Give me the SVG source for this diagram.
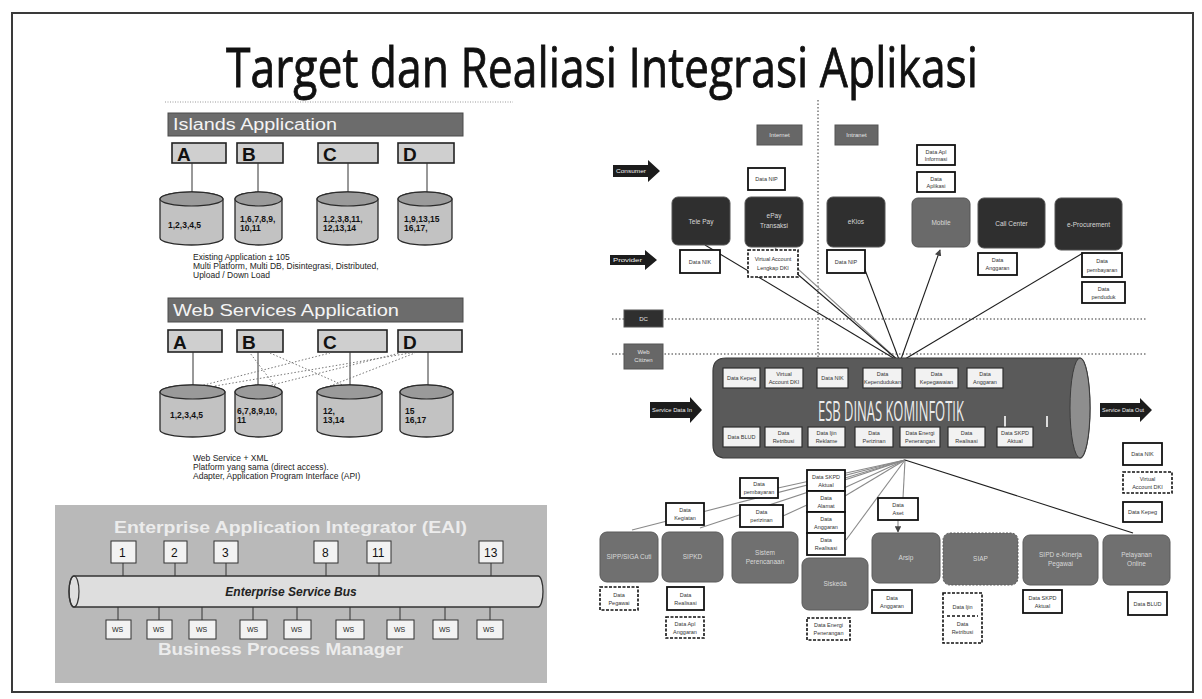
<svg xmlns="http://www.w3.org/2000/svg" width="1202" height="699" viewBox="0 0 1202 699">
<defs>
<style>
.frame{fill:#fff;stroke:#3a3a3a;stroke-width:2}
.title{font-family:"Open Sans","Liberation Sans",sans-serif;font-size:54px;fill:#111;stroke:#111;stroke-width:0.8}
.hdr{fill:#6c6c6c;stroke:#4a4a4a;stroke-width:1}
.hdrt{font-family:"Liberation Sans",Arial,sans-serif;font-size:16px;fill:#f4f4f4}
.abox{fill:#cfcfcf;stroke:#222;stroke-width:1.6}
.abt{font-family:"Liberation Sans",Arial,sans-serif;font-weight:bold;font-size:19px;fill:#111}
.cyl{fill:#c2c2c2;stroke:#2a2a2a;stroke-width:1.3}
.cyt{font-family:"Liberation Sans",Arial,sans-serif;font-weight:bold;font-size:8.5px;fill:#111}
.cap{font-family:"Liberation Sans",Arial,sans-serif;font-size:8.5px;fill:#222}
.vl{stroke:#333;stroke-width:1}
.wsl{stroke:#777;stroke-width:1;stroke-dasharray:1.5 2}
.panel{fill:#b9b9b9}
.eait{font-family:"Liberation Sans",Arial,sans-serif;font-weight:bold;font-size:17px;fill:#ececec}
.num{fill:#f2f2f2;stroke:#333;stroke-width:1}
.numt{font-family:"Liberation Sans",Arial,sans-serif;font-size:12px;fill:#111}
.bus{fill:#dedede;stroke:#333;stroke-width:1.3}
.bust{font-family:"Liberation Sans",Arial,sans-serif;font-weight:bold;font-style:italic;font-size:12px;fill:#222}
.wst{font-family:"Liberation Sans",Arial,sans-serif;font-size:7px;fill:#222}
.dn{fill:#2f2f2f;stroke:#555;stroke-width:1}
.mn{fill:#6a6a6a;stroke:#555;stroke-width:1}
.gn{fill:#707070;stroke:#5a5a5a;stroke-width:1}
.nt{font-family:"Liberation Sans",Arial,sans-serif;font-size:6.5px;fill:#d8d8d8}
.lb{fill:#fff;stroke:#111;stroke-width:1.8}
.lbd{fill:#fff;stroke:#111;stroke-width:1.6;stroke-dasharray:3 1.5}
.lt{font-family:"Liberation Sans",Arial,sans-serif;font-size:5.5px;fill:#333}
.tag{fill:#676767;stroke:#555;stroke-width:1}
.tagt{font-family:"Liberation Sans",Arial,sans-serif;font-size:6px;fill:#e4e4e4}
.arr{fill:#1c1c1c}
.arrt{font-family:"Liberation Sans",Arial,sans-serif;font-size:5.5px;fill:#f0f0f0}
.esb{fill:#5a5a5a;stroke:#3c3c3c;stroke-width:1.2}
.esbt{font-family:"Open Sans","Liberation Sans",sans-serif;font-size:27px;fill:#ececec}
.ib{fill:#f2f2f2;stroke:#2e2e2e;stroke-width:1.2}
.con{stroke:#1e1e1e;stroke-width:1.1;fill:none}
.conl{stroke:#8a8a8a;stroke-width:1.1;fill:none}
.dotl{stroke:#333;stroke-width:1;stroke-dasharray:1.5 2;fill:none}
</style>
<marker id="ah" viewBox="0 0 8 8" refX="7" refY="4" markerWidth="6" markerHeight="6" orient="auto">
<path d="M0,0 L8,4 L0,8 Z" fill="#444"/>
</marker>
</defs>

<!-- page frame -->
<rect class="frame" x="12" y="13" width="1181" height="679"/>

<!-- heading -->
<text class="title" x="226" y="87" textLength="752" lengthAdjust="spacingAndGlyphs">Target dan Realiasi Integrasi Aplikasi</text>

<!-- ===== Islands Application ===== -->
<g id="islands">
<line x1="165" y1="102" x2="513" y2="102" stroke="#999" stroke-width="1" stroke-dasharray="1 1.5"/>
<rect class="hdr" x="168" y="113" width="295" height="23"/>
<text class="hdrt" x="173" y="130" textLength="164" lengthAdjust="spacingAndGlyphs">Islands Application</text>
<g id="isl-a"><rect class="abox" x="172" y="143" width="54" height="20"/><text class="abt" x="177" y="161">A</text></g>
<g id="isl-b"><rect class="abox" x="237" y="143" width="46" height="20"/><text class="abt" x="242" y="161">B</text></g>
<g id="isl-c"><rect class="abox" x="318" y="143" width="60" height="20"/><text class="abt" x="323" y="161">C</text></g>
<g id="isl-d"><rect class="abox" x="398" y="143" width="56" height="20"/><text class="abt" x="403" y="161">D</text></g>
<line class="vl" x1="192" y1="163" x2="192" y2="193"/>
<line class="vl" x1="258" y1="163" x2="258" y2="193"/>
<line class="vl" x1="348" y1="163" x2="348" y2="193"/>
<line class="vl" x1="427" y1="163" x2="427" y2="193"/>
<g id="isl-db1"><path class="cyl" d="M160,199 A31.5,7 0 0 1 223,199 L223,238 A31.5,7 0 0 1 160,238 Z"/><ellipse cx="191.5" cy="199" rx="31.5" ry="7" fill="#9a9a9a" stroke="#2a2a2a" stroke-width="1.2"/><text class="cyt" x="168" y="228">1,2,3,4,5</text></g>
<g id="isl-db2"><path class="cyl" d="M235,199 A23.5,7 0 0 1 282,199 L282,238 A23.5,7 0 0 1 235,238 Z"/><ellipse cx="258.5" cy="199" rx="23.5" ry="7" fill="#9a9a9a" stroke="#2a2a2a" stroke-width="1.2"/><text class="cyt" x="240" y="222">1,6,7,8,9,</text><text class="cyt" x="240" y="231">10,11</text></g>
<g id="isl-db3"><path class="cyl" d="M317,199 A30.5,7 0 0 1 378,199 L378,238 A30.5,7 0 0 1 317,238 Z"/><ellipse cx="347.5" cy="199" rx="30.5" ry="7" fill="#9a9a9a" stroke="#2a2a2a" stroke-width="1.2"/><text class="cyt" x="323" y="222">1,2,3,8,11,</text><text class="cyt" x="323" y="231">12,13,14</text></g>
<g id="isl-db4"><path class="cyl" d="M398,199 A27,7 0 0 1 452,199 L452,238 A27,7 0 0 1 398,238 Z"/><ellipse cx="425" cy="199" rx="27" ry="7" fill="#9a9a9a" stroke="#2a2a2a" stroke-width="1.2"/><text class="cyt" x="404" y="222">1,9,13,15</text><text class="cyt" x="404" y="231">16,17,</text></g>
<text class="cap" x="193" y="260">Existing Application ± 105</text>
<text class="cap" x="193" y="269">Multi Platform, Multi DB, Disintegrasi, Distributed,</text>
<text class="cap" x="193" y="278">Upload / Down Load</text>
</g>

<!-- ===== Web Services Application ===== -->
<g id="websvc">
<rect class="hdr" x="168" y="298" width="295" height="24"/>
<text class="hdrt" x="173" y="316" textLength="226" lengthAdjust="spacingAndGlyphs">Web Services Application</text>
<g id="ws-a"><rect class="abox" x="168" y="330" width="54" height="22"/><text class="abt" x="173" y="349">A</text></g>
<g id="ws-b"><rect class="abox" x="237" y="330" width="46" height="22"/><text class="abt" x="242" y="349">B</text></g>
<g id="ws-c"><rect class="abox" x="318" y="330" width="69" height="22"/><text class="abt" x="323" y="349">C</text></g>
<g id="ws-d"><rect class="abox" x="398" y="330" width="64" height="22"/><text class="abt" x="403" y="349">D</text></g>
<line class="vl" x1="193" y1="352" x2="193" y2="386"/>
<line class="vl" x1="258" y1="352" x2="258" y2="386"/>
<line class="vl" x1="350" y1="352" x2="350" y2="386"/>
<line class="vl" x1="428" y1="352" x2="428" y2="386"/>
<line class="wsl" x1="200" y1="386" x2="330" y2="353"/>
<line class="wsl" x1="215" y1="386" x2="410" y2="353"/>
<line class="wsl" x1="268" y1="386" x2="400" y2="353"/>
<line class="wsl" x1="275" y1="386" x2="250" y2="353"/>
<line class="wsl" x1="345" y1="386" x2="270" y2="353"/>
<line class="wsl" x1="330" y1="386" x2="415" y2="353"/>
<g id="ws-db1"><path class="cyl" d="M160,392 A32.5,7 0 0 1 225,392 L225,430 A32.5,7 0 0 1 160,430 Z"/><ellipse cx="192.5" cy="392" rx="32.5" ry="7" fill="#9a9a9a" stroke="#2a2a2a" stroke-width="1.2"/><text class="cyt" x="170" y="418">1,2,3,4,5</text></g>
<g id="ws-db2"><path class="cyl" d="M235,392 A23.5,7 0 0 1 282,392 L282,430 A23.5,7 0 0 1 235,430 Z"/><ellipse cx="258.5" cy="392" rx="23.5" ry="7" fill="#9a9a9a" stroke="#2a2a2a" stroke-width="1.2"/><text class="cyt" x="237" y="414">6,7,8,9,10,</text><text class="cyt" x="237" y="423">11</text></g>
<g id="ws-db3"><path class="cyl" d="M317,392 A32.5,7 0 0 1 382,392 L382,430 A32.5,7 0 0 1 317,430 Z"/><ellipse cx="349.5" cy="392" rx="32.5" ry="7" fill="#9a9a9a" stroke="#2a2a2a" stroke-width="1.2"/><text class="cyt" x="323" y="414">12,</text><text class="cyt" x="323" y="423">13,14</text></g>
<g id="ws-db4"><path class="cyl" d="M400,392 A26.5,7 0 0 1 453,392 L453,430 A26.5,7 0 0 1 400,430 Z"/><ellipse cx="426.5" cy="392" rx="26.5" ry="7" fill="#9a9a9a" stroke="#2a2a2a" stroke-width="1.2"/><text class="cyt" x="405" y="414">15</text><text class="cyt" x="405" y="423">16,17</text></g>
<text class="cap" x="193" y="461">Web Service + XML</text>
<text class="cap" x="193" y="470">Platform yang sama (direct access).</text>
<text class="cap" x="193" y="479">Adapter, Application Program Interface (API)</text>
</g>

<!-- ===== Enterprise Application Integrator ===== -->
<g id="eai">
<rect class="panel" x="55" y="505" width="492" height="178"/>
<text class="eait" x="114" y="533" textLength="353" lengthAdjust="spacingAndGlyphs">Enterprise Application Integrator (EAI)</text>
<g class="vl">
<line x1="123" y1="563" x2="123" y2="578"/><line x1="175" y1="563" x2="175" y2="578"/><line x1="226" y1="563" x2="226" y2="578"/>
<line x1="326" y1="563" x2="326" y2="578"/><line x1="379" y1="563" x2="379" y2="578"/><line x1="491" y1="563" x2="491" y2="578"/>
<line x1="118" y1="606" x2="118" y2="620"/><line x1="159" y1="606" x2="159" y2="620"/><line x1="202" y1="606" x2="202" y2="620"/>
<line x1="253" y1="606" x2="253" y2="620"/><line x1="297" y1="606" x2="297" y2="620"/><line x1="350" y1="606" x2="350" y2="620"/>
<line x1="400" y1="606" x2="400" y2="620"/><line x1="445" y1="606" x2="445" y2="620"/><line x1="490" y1="606" x2="490" y2="620"/>
</g>
<g id="eai-1"><rect class="num" x="111" y="541" width="25" height="22"/><text class="numt" x="119" y="557">1</text></g>
<g id="eai-2"><rect class="num" x="164" y="541" width="23" height="22"/><text class="numt" x="171" y="557">2</text></g>
<g id="eai-3"><rect class="num" x="214" y="541" width="24" height="22"/><text class="numt" x="222" y="557">3</text></g>
<g id="eai-8"><rect class="num" x="314" y="541" width="24" height="22"/><text class="numt" x="322" y="557">8</text></g>
<g id="eai-11"><rect class="num" x="367" y="541" width="24" height="22"/><text class="numt" x="372" y="557">11</text></g>
<g id="eai-13"><rect class="num" x="479" y="541" width="24" height="22"/><text class="numt" x="484" y="557">13</text></g>
<g id="esb-bus">
<path class="bus" d="M74,576 H538 A5,15.5 0 0 1 538,607 H74 A5,15.5 0 0 1 74,576 Z"/>
<ellipse cx="74" cy="591.5" rx="5" ry="15.5" fill="none" stroke="#333" stroke-width="1.2"/>
<text class="bust" x="291" y="596" text-anchor="middle">Enterprise Service Bus</text>
</g>
<g id="eai-ws">
<rect class="num" x="106" y="620" width="25" height="19"/><text class="wst" x="112" y="632">WS</text>
<rect class="num" x="147" y="620" width="25" height="19"/><text class="wst" x="153" y="632">WS</text>
<rect class="num" x="189" y="620" width="27" height="19"/><text class="wst" x="196" y="632">WS</text>
<rect class="num" x="240" y="620" width="27" height="19"/><text class="wst" x="247" y="632">WS</text>
<rect class="num" x="284" y="620" width="27" height="19"/><text class="wst" x="291" y="632">WS</text>
<rect class="num" x="336" y="620" width="28" height="19"/><text class="wst" x="343" y="632">WS</text>
<rect class="num" x="387" y="620" width="27" height="19"/><text class="wst" x="394" y="632">WS</text>
<rect class="num" x="433" y="620" width="25" height="19"/><text class="wst" x="439" y="632">WS</text>
<rect class="num" x="477" y="620" width="26" height="19"/><text class="wst" x="483" y="632">WS</text>
</g>
<text class="eait" x="158" y="655" textLength="245" lengthAdjust="spacingAndGlyphs">Business Process Manager</text>
</g>

<!-- ===== ESB Dinas Kominfotik: connectors ===== -->
<g id="connectors">
<line class="dotl" x1="818" y1="100" x2="818" y2="358"/>
<line class="dotl" x1="612" y1="319" x2="1146" y2="319"/>
<line class="dotl" x1="612" y1="354" x2="1146" y2="354"/>
<!-- services consumed above the bus -->
<line class="con" x1="900" y1="362" x2="705" y2="245"/>
<line class="conl" x1="900" y1="362" x2="775" y2="248"/>
<line class="con" x1="900" y1="362" x2="795" y2="272"/>
<line class="con" x1="900" y1="362" x2="862" y2="262"/>
<line class="con" x1="900" y1="362" x2="940" y2="250" marker-end="url(#ah)"/>
<line class="con" x1="900" y1="362" x2="1083" y2="253"/>
<!-- services provided below the bus -->
<line class="conl" x1="905" y1="460" x2="632" y2="530"/>
<line class="conl" x1="905" y1="460" x2="700" y2="528"/>
<line class="conl" x1="905" y1="460" x2="778" y2="488"/>
<line class="conl" x1="905" y1="460" x2="783" y2="516"/>
<line class="conl" x1="905" y1="460" x2="845" y2="478"/>
<line class="conl" x1="905" y1="460" x2="845" y2="496"/>
<line class="conl" x1="905" y1="460" x2="846" y2="540"/>
<line class="conl" x1="905" y1="460" x2="903" y2="498"/>
<line class="con" x1="905" y1="460" x2="1133" y2="533"/>
<line class="conl" x1="898" y1="520" x2="898" y2="532" marker-end="url(#ah)"/>
</g>

<!-- zone tags -->
<g id="tag-internet"><rect class="tag" x="757" y="125" width="45" height="20"/><text class="tagt" x="779.5" y="137" text-anchor="middle">Internet</text></g>
<g id="tag-intranet"><rect class="tag" x="835" y="125" width="43" height="20"/><text class="tagt" x="856.5" y="137" text-anchor="middle">Intranet</text></g>
<g id="tag-dc"><rect class="dn" x="624" y="310" width="39" height="17"/><text class="tagt" x="643.5" y="321" text-anchor="middle">DC</text></g>
<g id="tag-web"><rect class="tag" x="624" y="344" width="39" height="25"/><text class="tagt" x="643.5" y="354" text-anchor="middle">Web</text><text class="tagt" x="643.5" y="362" text-anchor="middle">Citizen</text></g>

<!-- flow arrows -->
<g id="arrow-consumer"><path class="arr" d="M613,165 H648 V160 L660,171 L648,182 V177 H613 Z"/><text class="arrt" x="616" y="173" textLength="30" lengthAdjust="spacingAndGlyphs">Consumer</text></g>
<g id="arrow-provider"><path class="arr" d="M610,255 H645 V250 L657,260 L645,270 V265 H610 Z"/><text class="arrt" x="613" y="262" textLength="29" lengthAdjust="spacingAndGlyphs">Provider</text></g>
<g id="arrow-in"><path class="arr" d="M650,402 H690 V397 L702,410 L690,423 V418 H650 Z"/><text class="arrt" x="652" y="412" textLength="40" lengthAdjust="spacingAndGlyphs">Service Data In</text></g>
<g id="arrow-out"><path class="arr" d="M1100,403 H1140 V398 L1152,410 L1140,422 V417 H1100 Z"/><text class="arrt" x="1102" y="412" textLength="42" lengthAdjust="spacingAndGlyphs">Service Data Out</text></g>

<!-- top row applications -->
<g id="n-telepay"><rect class="dn" x="672" y="197" width="58" height="48" rx="6"/><text class="nt" x="701" y="224" text-anchor="middle">Tele Pay</text></g>
<g id="n-epay"><rect class="dn" x="745" y="197" width="58" height="50" rx="6"/><text class="nt" x="774" y="218" text-anchor="middle">ePay</text><text class="nt" x="774" y="228" text-anchor="middle">Transaksi</text></g>
<g id="n-ekios"><rect class="dn" x="827" y="197" width="58" height="50" rx="6"/><text class="nt" x="856" y="224" text-anchor="middle">eKios</text></g>
<g id="n-mobile"><rect class="mn" x="912" y="198" width="58" height="49" rx="6"/><text class="nt" x="941" y="225" text-anchor="middle">Mobile</text></g>
<g id="n-callcenter"><rect class="dn" x="978" y="198" width="67" height="50" rx="6"/><text class="nt" x="1011.5" y="226" text-anchor="middle">Call Center</text></g>
<g id="n-eproc"><rect class="dn" x="1055" y="198" width="67" height="52" rx="6"/><text class="nt" x="1088.5" y="227" text-anchor="middle">e-Procurement</text></g>

<!-- data labels, top row -->
<g id="d-nip"><rect class="lb" x="748" y="168" width="37" height="22"/><text class="lt" x="766.5" y="181" text-anchor="middle">Data NIP</text></g>
<g id="d-nik1"><rect class="lb" x="680" y="250" width="40" height="23"/><text class="lt" x="700" y="264" text-anchor="middle">Data NIK</text></g>
<g id="d-va1"><rect class="lbd" x="748" y="250" width="50" height="27"/><text class="lt" x="773" y="261" text-anchor="middle">Virtual Account</text><text class="lt" x="773" y="270" text-anchor="middle">Lengkap DKI</text></g>
<g id="d-nip2"><rect class="lb" x="827" y="250" width="38" height="23"/><text class="lt" x="846" y="264" text-anchor="middle">Data NIP</text></g>
<g id="d-aplinfo"><rect class="lb" x="917" y="145" width="38" height="20"/><text class="lt" x="936" y="154" text-anchor="middle">Data Apl</text><text class="lt" x="936" y="161" text-anchor="middle">Informasi</text></g>
<g id="d-apl"><rect class="lb" x="917" y="172" width="38" height="20"/><text class="lt" x="936" y="181" text-anchor="middle">Data</text><text class="lt" x="936" y="188" text-anchor="middle">Aplikasi</text></g>
<g id="d-angg1"><rect class="lb" x="978" y="253" width="39" height="22"/><text class="lt" x="997.5" y="262" text-anchor="middle">Data</text><text class="lt" x="997.5" y="270" text-anchor="middle">Anggaran</text></g>
<g id="d-bayar1"><rect class="lb" x="1082" y="253" width="40" height="24"/><text class="lt" x="1102" y="263" text-anchor="middle">Data</text><text class="lt" x="1102" y="272" text-anchor="middle">pembayaran</text></g>
<g id="d-pend"><rect class="lb" x="1082" y="282" width="43" height="21"/><text class="lt" x="1103.5" y="291" text-anchor="middle">Data</text><text class="lt" x="1103.5" y="299" text-anchor="middle">penduduk</text></g>

<!-- the service bus -->
<g id="esb">
<path class="esb" d="M726,358 H1080 A10,50 0 0 1 1080,458 H726 Q713,458 713,445 V371 Q713,358 726,358 Z"/>
<ellipse cx="1080" cy="408" rx="10" ry="50" fill="#8e8e8e" stroke="#3c3c3c" stroke-width="1"/>
<line x1="1005" y1="416" x2="1005" y2="427" stroke="#ddd" stroke-width="2"/>
<line x1="1047" y1="416" x2="1047" y2="427" stroke="#ddd" stroke-width="2"/>
<text class="esbt" transform="translate(818,421) scale(0.48,1)" x="0" y="0">ESB DINAS KOMINFOTIK</text>
<rect class="ib" x="723" y="368" width="37" height="20"/><text class="lt" x="741.5" y="380" text-anchor="middle">Data Kepeg</text>
<rect class="ib" x="765" y="368" width="38" height="20"/><text class="lt" x="784" y="376" text-anchor="middle">Virtual</text><text class="lt" x="784" y="384" text-anchor="middle">Account DKI</text>
<rect class="ib" x="817" y="368" width="31" height="20"/><text class="lt" x="832.5" y="380" text-anchor="middle">Data NIK</text>
<rect class="ib" x="863" y="368" width="39" height="20"/><text class="lt" x="882.5" y="376" text-anchor="middle">Data</text><text class="lt" x="882.5" y="384" text-anchor="middle">Kependudukan</text>
<rect class="ib" x="915" y="368" width="43" height="20"/><text class="lt" x="936.5" y="376" text-anchor="middle">Data</text><text class="lt" x="936.5" y="384" text-anchor="middle">Kepegawaian</text>
<rect class="ib" x="967" y="368" width="36" height="20"/><text class="lt" x="985" y="376" text-anchor="middle">Data</text><text class="lt" x="985" y="384" text-anchor="middle">Anggaran</text>
<rect class="ib" x="723" y="427" width="37" height="20"/><text class="lt" x="741.5" y="439" text-anchor="middle">Data BLUD</text>
<rect class="ib" x="765" y="427" width="37" height="20"/><text class="lt" x="783.5" y="435" text-anchor="middle">Data</text><text class="lt" x="783.5" y="443" text-anchor="middle">Retribusi</text>
<rect class="ib" x="808" y="427" width="37" height="20"/><text class="lt" x="826.5" y="435" text-anchor="middle">Data Ijin</text><text class="lt" x="826.5" y="443" text-anchor="middle">Reklame</text>
<rect class="ib" x="855" y="427" width="38" height="20"/><text class="lt" x="874" y="435" text-anchor="middle">Data</text><text class="lt" x="874" y="443" text-anchor="middle">Perizinan</text>
<rect class="ib" x="900" y="427" width="40" height="20"/><text class="lt" x="920" y="435" text-anchor="middle">Data Energi</text><text class="lt" x="920" y="443" text-anchor="middle">Penerangan</text>
<rect class="ib" x="948" y="427" width="37" height="20"/><text class="lt" x="966.5" y="435" text-anchor="middle">Data</text><text class="lt" x="966.5" y="443" text-anchor="middle">Realisasi</text>
<rect class="ib" x="997" y="427" width="36" height="20"/><text class="lt" x="1015" y="435" text-anchor="middle">Data SKPD</text><text class="lt" x="1015" y="443" text-anchor="middle">Aktual</text>
</g>

<!-- right-hand data labels -->
<g id="d-nik2"><rect class="lb" x="1123" y="443" width="39" height="22"/><text class="lt" x="1142.5" y="456" text-anchor="middle">Data NIK</text></g>
<g id="d-va2"><rect class="lbd" x="1123" y="472" width="49" height="21"/><text class="lt" x="1147.5" y="481" text-anchor="middle">Virtual</text><text class="lt" x="1147.5" y="489" text-anchor="middle">Account DKI</text></g>
<g id="d-kepeg"><rect class="lb" x="1123" y="502" width="39" height="20"/><text class="lt" x="1142.5" y="514" text-anchor="middle">Data Kepeg</text></g>

<!-- data labels between bus and bottom row -->
<g id="d-keg"><rect class="lb" x="666" y="503" width="38" height="22"/><text class="lt" x="685" y="512" text-anchor="middle">Data</text><text class="lt" x="685" y="520" text-anchor="middle">Kegiatan</text></g>
<g id="d-bayar2"><rect class="lb" x="740" y="478" width="38" height="20"/><text class="lt" x="759" y="486" text-anchor="middle">Data</text><text class="lt" x="759" y="494" text-anchor="middle">pembayaran</text></g>
<g id="d-izin"><rect class="lb" x="740" y="505" width="43" height="22"/><text class="lt" x="761.5" y="514" text-anchor="middle">Data</text><text class="lt" x="761.5" y="522" text-anchor="middle">perizinan</text></g>
<g id="d-stack">
<rect class="lb" x="807" y="470" width="38" height="21"/><text class="lt" x="826" y="479" text-anchor="middle">Data SKPD</text><text class="lt" x="826" y="487" text-anchor="middle">Aktual</text>
<rect class="lb" x="807" y="491" width="38" height="21"/><text class="lt" x="826" y="500" text-anchor="middle">Data</text><text class="lt" x="826" y="508" text-anchor="middle">Alamat</text>
<rect class="lb" x="807" y="512" width="38" height="21"/><text class="lt" x="826" y="521" text-anchor="middle">Data</text><text class="lt" x="826" y="529" text-anchor="middle">Anggaran</text>
<rect class="lb" x="807" y="533" width="38" height="22"/><text class="lt" x="826" y="542" text-anchor="middle">Data</text><text class="lt" x="826" y="550" text-anchor="middle">Realisasi</text>
</g>
<g id="d-aset"><rect class="lb" x="878" y="498" width="40" height="22"/><text class="lt" x="898" y="507" text-anchor="middle">Data</text><text class="lt" x="898" y="515" text-anchor="middle">Aset</text></g>

<!-- bottom row applications -->
<g id="n-sipp"><rect class="gn" x="600" y="532" width="58" height="50" rx="7"/><text class="nt" x="629" y="559" text-anchor="middle">SIPP/SIGA Cuti</text></g>
<g id="n-sipkd"><rect class="gn" x="662" y="532" width="61" height="50" rx="7"/><text class="nt" x="692.5" y="559" text-anchor="middle">SIPKD</text></g>
<g id="n-renc"><rect class="gn" x="732" y="532" width="66" height="51" rx="7"/><text class="nt" x="765" y="555" text-anchor="middle">Sistem</text><text class="nt" x="765" y="564" text-anchor="middle">Perencanaan</text></g>
<g id="n-siskeda"><rect class="gn" x="802" y="558" width="66" height="52" rx="7"/><text class="nt" x="835" y="586" text-anchor="middle">Siskeda</text></g>
<g id="n-arsip"><rect class="gn" x="872" y="533" width="68" height="50" rx="7"/><text class="nt" x="906" y="560" text-anchor="middle">Arsip</text></g>
<g id="n-siap"><rect class="gn" x="943" y="533" width="75" height="52" rx="7" stroke="#333" stroke-dasharray="2 1.5"/><text class="nt" x="980.5" y="561" text-anchor="middle">SIAP</text></g>
<g id="n-kinerja"><rect class="gn" x="1023" y="535" width="75" height="50" rx="7"/><text class="nt" x="1060.5" y="557" text-anchor="middle">SIPD e-Kinerja</text><text class="nt" x="1060.5" y="566" text-anchor="middle">Pegawai</text></g>
<g id="n-online"><rect class="gn" x="1103" y="535" width="67" height="50" rx="7"/><text class="nt" x="1136.5" y="557" text-anchor="middle">Pelayanan</text><text class="nt" x="1136.5" y="566" text-anchor="middle">Online</text></g>

<!-- data labels under bottom row -->
<g id="d-peg"><rect class="lbd" x="600" y="587" width="38" height="23"/><text class="lt" x="619" y="597" text-anchor="middle">Data</text><text class="lt" x="619" y="605" text-anchor="middle">Pegawai</text></g>
<g id="d-real"><rect class="lb" x="667" y="587" width="37" height="23"/><text class="lt" x="685.5" y="597" text-anchor="middle">Data</text><text class="lt" x="685.5" y="605" text-anchor="middle">Realisasi</text></g>
<g id="d-aplangg"><rect class="lbd" x="666" y="617" width="38" height="21"/><text class="lt" x="685" y="626" text-anchor="middle">Data Apl</text><text class="lt" x="685" y="634" text-anchor="middle">Anggaran</text></g>
<g id="d-energi"><rect class="lbd" x="807" y="618" width="43" height="22"/><text class="lt" x="828.5" y="627" text-anchor="middle">Data Energi</text><text class="lt" x="828.5" y="635" text-anchor="middle">Penerangan</text></g>
<g id="d-angg2"><rect class="lb" x="872" y="590" width="40" height="23"/><text class="lt" x="892" y="600" text-anchor="middle">Data</text><text class="lt" x="892" y="608" text-anchor="middle">Anggaran</text></g>
<g id="d-ijin"><rect class="lbd" x="943" y="593" width="39" height="50" fill="#fff"/><text class="lt" x="962.5" y="609" text-anchor="middle">Data Ijin</text><line x1="947" y1="616" x2="978" y2="616" stroke="#111" stroke-width="1.4" stroke-dasharray="3 2"/><text class="lt" x="962.5" y="626" text-anchor="middle">Data</text><text class="lt" x="962.5" y="634" text-anchor="middle">Retribusi</text></g>
<g id="d-skpd"><rect class="lb" x="1023" y="590" width="39" height="23"/><text class="lt" x="1042.5" y="600" text-anchor="middle">Data SKPD</text><text class="lt" x="1042.5" y="608" text-anchor="middle">Aktual</text></g>
<g id="d-blud"><rect class="lb" x="1128" y="592" width="39" height="23"/><text class="lt" x="1147.5" y="606" text-anchor="middle">Data BLUD</text></g>
</svg>
